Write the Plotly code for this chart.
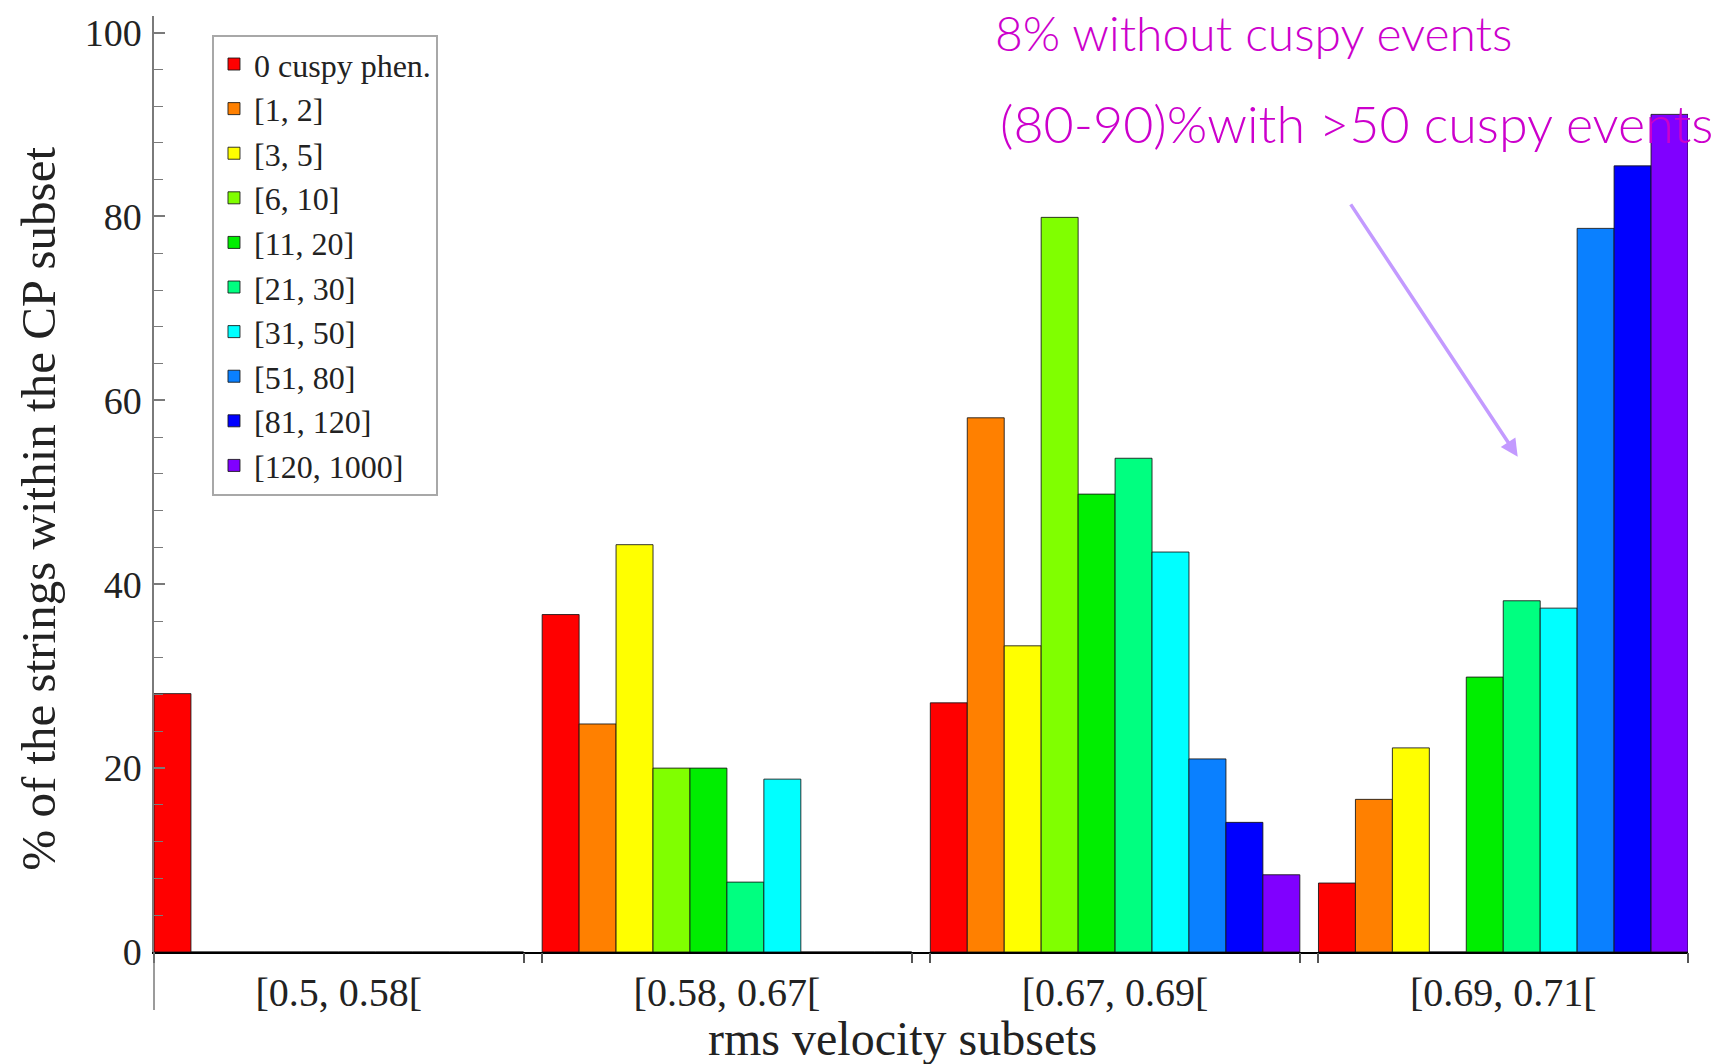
import plotly.graph_objects as go

# ---------------- data ----------------
categories = ["[0.5, 0.58[", "[0.58, 0.67[", "[0.67, 0.69[", "[0.69, 0.71["]

series_names = ["0 cuspy phen.", "[1, 2]", "[3, 5]", "[6, 10]", "[11, 20]",
                "[21, 30]", "[31, 50]", "[51, 80]", "[81, 120]", "[120, 1000]"]

cusp_0 = [28.1, 36.7, 27.1, 7.5]
cusp_1_2 = [0, 24.8, 58.1, 16.6]
cusp_3_5 = [0, 44.3, 33.3, 22.2]
cusp_6_10 = [0, 20.0, 79.9, 0]
cusp_11_20 = [0, 20.0, 49.8, 29.9]
cusp_21_30 = [0, 7.6, 53.7, 38.2]
cusp_31_50 = [0, 18.8, 43.5, 37.4]
cusp_51_80 = [0, 0, 21.0, 78.7]
cusp_81_120 = [0, 0, 14.1, 85.5]
cusp_120_1000 = [0, 0, 8.4, 91.1]

series_values = [cusp_0, cusp_1_2, cusp_3_5, cusp_6_10, cusp_11_20,
                 cusp_21_30, cusp_31_50, cusp_51_80, cusp_81_120, cusp_120_1000]

series_colors = ["#FF0000", "#FF8000", "#FFFF00", "#80FF00", "#00EE00",
                 "#00FF80", "#00FFFF", "#0A80FF", "#0000FF", "#8000FF"]

y_major_ticks = [0, 20, 40, 60, 80, 100]
y_minor_ticks = [4, 8, 12, 16, 24, 28, 32, 36, 44, 48, 52, 56, 64, 68, 72, 76, 84, 88, 92, 96]

x_title = "rms velocity subsets"
y_title = "% of the strings within the CP subset"
note_1 = "8% without cuspy events"
note_2 = "(80-90)%with >50 cuspy events"

# ---------------- figure ----------------
BARGAP = 0.048
half = (1 - BARGAP) / 2
n = len(categories)
x_range = [-half, n - 1 + half]
edge_ticks = []
for i in range(n):
    edge_ticks += [i - half, i + half]

fig = go.Figure()
for name, vals, col in zip(series_names, series_values, series_colors):
    fig.add_trace(go.Bar(
        x=categories, y=vals, name=name,
        marker=dict(color=col, line=dict(color="rgba(20,20,20,0.85)", width=1)),
    ))

# empty helper trace so the overlay axis carrying the group-edge ticks is drawn
fig.add_trace(go.Scatter(x=[], y=[], xaxis="x2", showlegend=False, hoverinfo="skip"))

serif = "Liberation Serif"
axis_gray = "#7a7a7a"
txt = "#222222"

fig.update_layout(
    width=1728, height=1064,
    margin=dict(l=154, r=40, t=16, b=112),
    paper_bgcolor="white", plot_bgcolor="white",
    font=dict(family=serif, color=txt),
    barmode="group", bargap=BARGAP, bargroupgap=0,
    showlegend=True,
    legend=dict(
        x=0.0378, y=0.98, xanchor="left", yanchor="top",
        bgcolor="white", bordercolor="#A8A8A8", borderwidth=2,
        font=dict(family=serif, size=32, color=txt),
        itemwidth=30, tracegroupgap=0,
    ),
    xaxis=dict(
        type="category", range=x_range,
        showline=True, linecolor="black", linewidth=2,
        ticks="", showgrid=False, zeroline=False,
        tickfont=dict(family=serif, size=40, color=txt),
        ticklabelstandoff=4,
    ),
    xaxis2=dict(
        overlaying="x", anchor="y", side="bottom", type="linear",
        range=x_range, tickmode="array", tickvals=edge_ticks,
        ticks="outside", ticklen=10, tickwidth=1.5, tickcolor="#555555",
        showticklabels=False, showgrid=False, zeroline=False, showline=False,
    ),
    yaxis=dict(
        range=[0, 101.8], tickmode="array", tickvals=y_major_ticks,
        ticks="inside", ticklen=11, tickwidth=1.5, tickcolor=axis_gray,
        showline=True, linecolor=axis_gray, linewidth=1.5,
        showgrid=False, zeroline=False,
        minor=dict(tickmode="array", tickvals=y_minor_ticks, ticks="inside",
                   ticklen=9, tickwidth=1.2, tickcolor=axis_gray, showgrid=False),
        tickfont=dict(family=serif, size=38, color=txt),
        ticklabelstandoff=3,
    ),
)

# axis titles
fig.add_annotation(text=y_title, xref="paper", yref="paper", x=-0.0752, y=0.4733,
                   xanchor="center", yanchor="middle", textangle=-90, showarrow=False,
                   font=dict(family=serif, size=49, color=txt))
fig.add_annotation(text=x_title, xref="paper", yref="paper", x=0.488, y=-0.0919,
                   xanchor="center", yanchor="middle", showarrow=False,
                   font=dict(family=serif, size=48, color=txt))

# extension of the vertical axis below the baseline
fig.add_shape(type="line", xref="paper", yref="paper",
              x0=0, x1=0, y0=0, y1=-0.062,
              line=dict(color=axis_gray, width=1.5))

# handwritten notes
fig.add_annotation(text=note_1, xref="paper", yref="paper", x=0.547, y=0.982,
                   xanchor="left", yanchor="middle", showarrow=False,
                   font=dict(family="Lato", size=48, color="#CC00CC", weight=300))
fig.add_annotation(text=note_2, xref="paper", yref="paper", x=0.550, y=0.886,
                   xanchor="left", yanchor="middle", showarrow=False,
                   font=dict(family="Lato", size=52, color="#CC00CC", weight=300))

# arrow
fig.add_annotation(text="", xref="paper", yref="paper", x=0.889, y=0.529,
                   ax=-168, ay=-254, axref="pixel", ayref="pixel",
                   showarrow=True, arrowhead=2, arrowsize=1, arrowwidth=3.5,
                   arrowcolor="#C39AFF", standoff=0)

fig.write_html("out.html")
